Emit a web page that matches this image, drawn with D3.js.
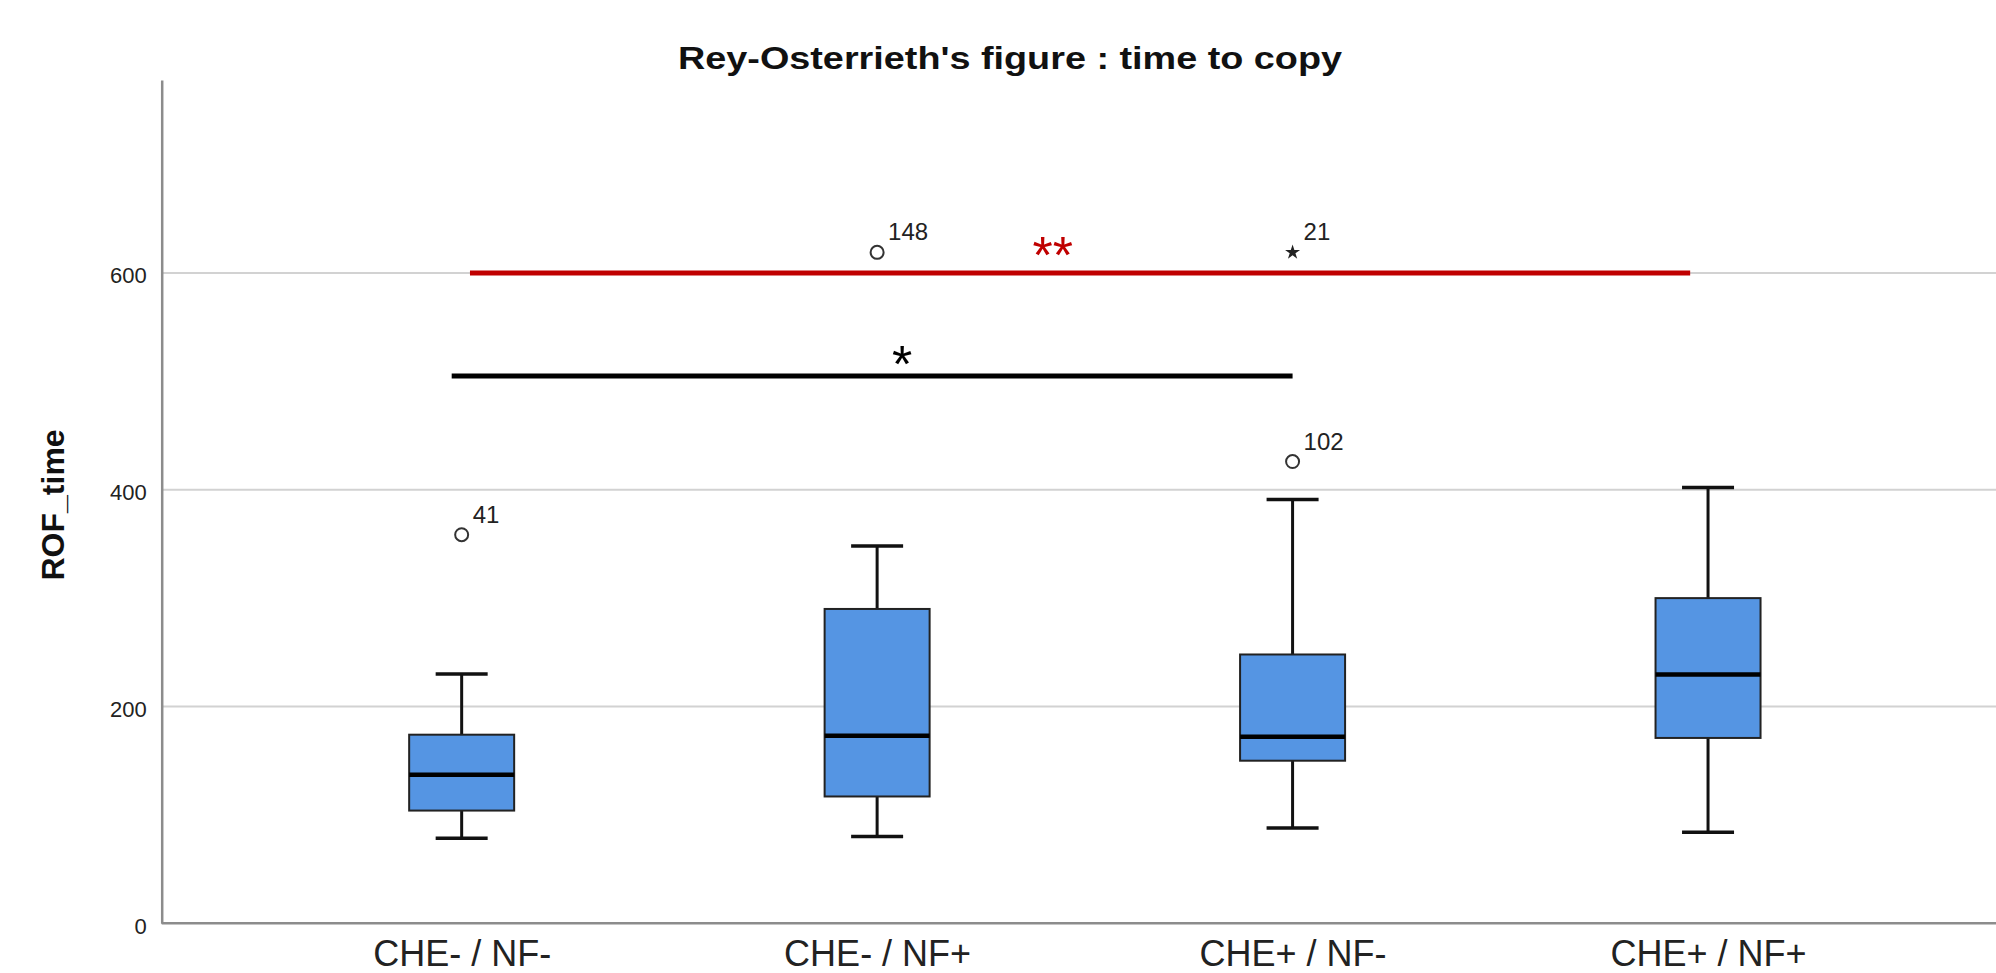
<!DOCTYPE html>
<html>
<head>
<meta charset="utf-8">
<script src="https://cdn.jsdelivr.net/npm/d3@7/dist/d3.min.js"></script>
<style>
  html, body { margin: 0; padding: 0; background: #fff; overflow: hidden; }
  svg { display: block; font-family: "Liberation Sans", Arial, sans-serif; }
</style>
</head>
<body>
<svg id="chart" width="1996" height="973"></svg>
<script>
// Groups and box-plot summaries of the copy time
const categories = ["CHE- / NF-", "CHE- / NF+", "CHE+ / NF-", "CHE+ / NF+"];
const whiskerLow  = [78.5, 80, 88, 84];
const q1          = [104, 117, 150, 171];
const median      = [137, 173, 172, 229.5];
const q3          = [174, 290, 248, 300];
const whiskerHigh = [230, 348, 391, 402];

// Outliers (circle) and extreme values (star), with their case numbers
const outlierGroup = [0, 1, 2, 2];
const outlierValue = [358.5, 619, 426, 619];
const outlierId    = ["41", "148", "102", "21"];
const outlierKind  = ["o", "o", "o", "*"];

const yTicks = [0, 200, 400, 600];

// Significance bars: span in group positions, height in seconds, mark
const sigStart = [0.02, -0.024];
const sigEnd   = [2.957, 2.0];
const sigValue = [600, 505];
const sigMark  = ["**", "*"];
const sigMarkPos   = [1.423, 1.06];
const sigMarkValue = [627, 526.5];
const sigColor = ["#c00000", "#000000"];

const W = 1996, H = 973;
const plotLeft = 161.7, plotTop = 80, plotBottom = 923.3;

const svg = d3.select("#chart");

const y = d3.scaleLinear().domain([0, 778]).range([plotBottom, plotTop]);
const x = d3.scalePoint().domain(categories).range([plotLeft, 2008]).padding(0.722);
const xi = d3.scaleLinear().domain([0, 3]).range([x(categories[0]), x(categories[3])]);

// Horizontal grid
svg.append("g")
  .selectAll("line")
  .data(yTicks.filter(d => d > 0))
  .join("line")
  .attr("x1", plotLeft).attr("x2", W)
  .attr("y1", d => y(d)).attr("y2", d => y(d))
  .attr("stroke", "#d2d2d2").attr("stroke-width", 2);

// Y axis
const yAxis = svg.append("g")
  .attr("transform", `translate(${plotLeft},0)`)
  .call(d3.axisLeft(y).tickValues(yTicks).tickSize(0).tickPadding(15));
yAxis.select(".domain").attr("stroke", "#8c8c8c").attr("stroke-width", 2.5);
yAxis.selectAll("text")
  .attr("font-size", 22).attr("fill", "#222")
  .attr("font-family", "Liberation Sans, Arial, sans-serif")
  .attr("dy", "0.45em");

// X axis
const xAxis = svg.append("g")
  .attr("transform", `translate(0,${plotBottom})`)
  .call(d3.axisBottom(x).tickSize(0).tickPadding(0));
xAxis.select(".domain").attr("d", `M${plotLeft},0H${W}`)
  .attr("stroke", "#8c8c8c").attr("stroke-width", 2.5);
xAxis.selectAll("text")
  .attr("font-size", 36).attr("fill", "#222")
  .attr("font-family", "Liberation Sans, Arial, sans-serif")
  .attr("dy", 0).attr("y", 43);

// Boxes
const boxW = 105, capW = 52;
const g = svg.append("g");
categories.forEach((c, i) => {
  const cx = x(c);
  // whiskers
  g.append("line").attr("x1", cx).attr("x2", cx)
    .attr("y1", y(whiskerHigh[i])).attr("y2", y(q3[i]))
    .attr("stroke", "#111").attr("stroke-width", 3);
  g.append("line").attr("x1", cx).attr("x2", cx)
    .attr("y1", y(q1[i])).attr("y2", y(whiskerLow[i]))
    .attr("stroke", "#111").attr("stroke-width", 3);
  [whiskerHigh[i], whiskerLow[i]].forEach(v => {
    g.append("line").attr("x1", cx - capW / 2).attr("x2", cx + capW / 2)
      .attr("y1", y(v)).attr("y2", y(v))
      .attr("stroke", "#111").attr("stroke-width", 3.5);
  });
  // box
  g.append("rect")
    .attr("x", cx - boxW / 2).attr("width", boxW)
    .attr("y", y(q3[i])).attr("height", y(q1[i]) - y(q3[i]))
    .attr("fill", "#5595e3").attr("stroke", "#222").attr("stroke-width", 2);
  // median
  g.append("line").attr("x1", cx - boxW / 2).attr("x2", cx + boxW / 2)
    .attr("y1", y(median[i])).attr("y2", y(median[i]))
    .attr("stroke", "#000").attr("stroke-width", 4.5);
});

// Outliers and extremes
outlierValue.forEach((v, k) => {
  const cx = x(categories[outlierGroup[k]]);
  const cy = y(v);
  if (outlierKind[k] === "o") {
    g.append("circle").attr("cx", cx).attr("cy", cy).attr("r", 6.5)
      .attr("fill", "none").attr("stroke", "#333").attr("stroke-width", 2);
  } else {
    g.append("path")
      .attr("transform", `translate(${cx},${cy})`)
      .attr("d", d3.symbol(d3.symbolStar, 70)())
      .attr("fill", "#222");
  }
  g.append("text")
    .attr("x", cx + 11).attr("y", cy - 12)
    .attr("font-size", 24).attr("fill", "#222")
    .text(outlierId[k]);
});

// Significance bars
sigValue.forEach((v, k) => {
  svg.append("line")
    .attr("x1", xi(sigStart[k])).attr("x2", xi(sigEnd[k]))
    .attr("y1", y(v)).attr("y2", y(v))
    .attr("stroke", sigColor[k]).attr("stroke-width", 5);
  const fs = 52;
  svg.append("text")
    .attr("x", xi(sigMarkPos[k]))
    .attr("y", y(sigMarkValue[k]) + 0.57 * fs)
    .attr("text-anchor", "middle")
    .attr("font-size", fs).attr("fill", sigColor[k])
    .text(sigMark[k]);
});

// Title (wide, bold)
svg.append("text")
  .attr("x", 1010).attr("y", 69)
  .attr("text-anchor", "middle")
  .attr("font-size", 31).attr("font-weight", "bold").attr("fill", "#111")
  .attr("textLength", 664).attr("lengthAdjust", "spacingAndGlyphs")
  .text("Rey-Osterrieth's figure : time to copy");

// Y axis title
svg.append("text")
  .attr("transform", `translate(64,${(338 + 455) / 2 * 1.2735}) rotate(-90)`)
  .attr("text-anchor", "middle")
  .attr("font-size", 32).attr("font-weight", "bold").attr("fill", "#111")
  .text("ROF_time");
</script>
</body>
</html>
